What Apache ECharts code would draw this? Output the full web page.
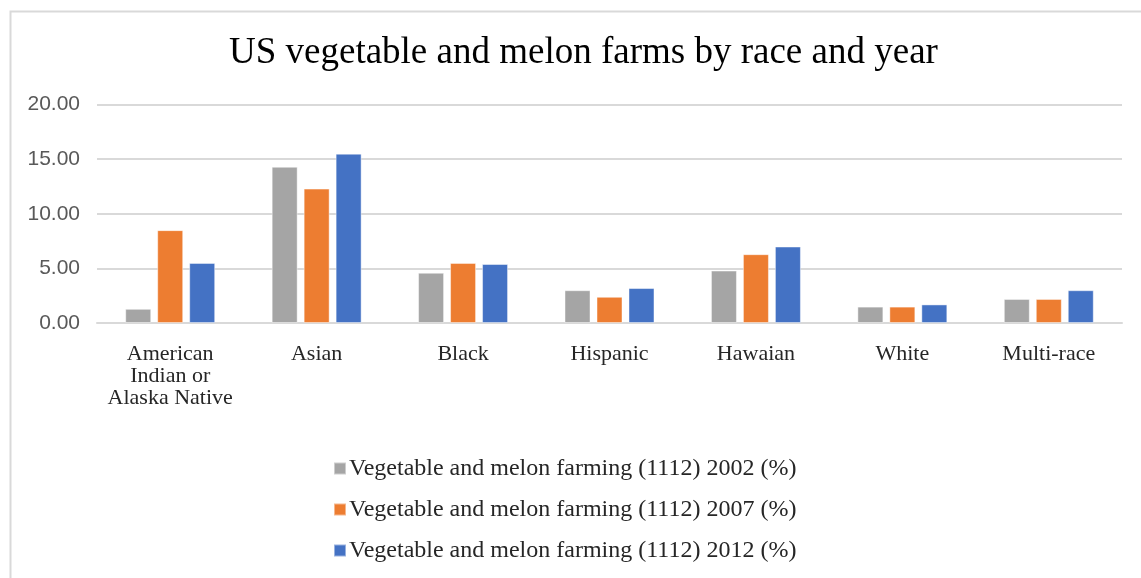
<!DOCTYPE html>
<html>
<head>
<meta charset="utf-8">
<title>US vegetable and melon farms by race and year</title>
<script src="https://cdn.jsdelivr.net/npm/echarts@6/dist/echarts.min.js"></script>
<style>
  html, body { margin: 0; padding: 0; background: #ffffff; }
  #chart { width: 1141px; height: 578px; }
</style>
</head>
<body>
<div id="chart"></div>
<script>
// Race groups on the category axis
const categories = [
  'American\nIndian or\nAlaska Native',
  'Asian',
  'Black',
  'Hispanic',
  'Hawaian',
  'White',
  'Multi-race'
];

// Share of farms in vegetable and melon farming (%), per census year
const series2002 = [1.3, 14.3, 4.6, 3.0, 4.8, 1.5, 2.2];
const series2007 = [8.5, 12.3, 5.5, 2.4, 6.3, 1.5, 2.2];
const series2012 = [5.5, 15.5, 5.4, 3.2, 7.0, 1.7, 3.0];

const seriesNames = [
  'Vegetable and melon farming (1112) 2002 (%)',
  'Vegetable and melon farming (1112) 2007 (%)',
  'Vegetable and melon farming (1112) 2012 (%)'
];

const yTicks = { min: 0, max: 20, interval: 5 };

const colors = ['#A5A5A5', '#ED7D31', '#4472C4'];
const serif = '"Liberation Serif", "Times New Roman", serif';

const chart = echarts.init(document.getElementById('chart'), null, { renderer: 'canvas' });

function barSeries(name, values, color) {
  return {
    name: name,
    type: 'bar',
    data: values,
    barWidth: 26,
    barGap: '23%',
    itemStyle: {
      color: color,
      borderColor: 'rgba(255,255,255,0.45)',
      borderWidth: 1
    }
  };
}

chart.setOption({
  animation: false,
  backgroundColor: '#ffffff',
  color: colors,
  graphic: [{
    type: 'rect',
    left: 8,
    top: 9,
    shape: { width: 1160, height: 600 },
    style: { fill: 'none', stroke: '#d9d9d9', lineWidth: 2 },
    silent: true,
    z: -1
  }],
  title: {
    text: 'US vegetable and melon farms by race and year',
    left: 224,
    top: 30,
    textStyle: {
      fontFamily: serif,
      fontSize: 37,
      fontWeight: 'normal',
      color: '#000000'
    }
  },
  legend: {
    orient: 'vertical',
    left: 328,
    top: 451,
    itemWidth: 12,
    itemHeight: 12,
    itemGap: 16,
    icon: 'rect',
    data: seriesNames,
    textStyle: {
      fontFamily: serif,
      fontSize: 24,
      lineHeight: 25,
      color: '#262626',
      padding: [0, 0, 0, -2]
    }
  },
  grid: {
    left: 97,
    right: 19,
    top: 104.5,
    bottom: 255,
    containLabel: false
  },
  xAxis: {
    type: 'category',
    data: categories,
    axisLine: { show: true, lineStyle: { color: '#d9d9d9', width: 2 } },
    axisTick: { show: false },
    axisLabel: {
      interval: 0,
      margin: 20,
      fontFamily: serif,
      fontSize: 22,
      lineHeight: 22,
      color: '#262626'
    }
  },
  yAxis: {
    type: 'value',
    min: yTicks.min,
    max: yTicks.max,
    interval: yTicks.interval,
    axisLine: { show: false },
    axisTick: { show: false },
    splitLine: { lineStyle: { color: '#d9d9d9', width: 2 } },
    axisLabel: {
      margin: 17,
      fontFamily: '"Liberation Sans", Arial, sans-serif',
      fontSize: 21,
      color: '#595959',
      formatter: function (v) { return v.toFixed(2); }
    }
  },
  series: [
    barSeries(seriesNames[0], series2002, colors[0]),
    barSeries(seriesNames[1], series2007, colors[1]),
    barSeries(seriesNames[2], series2012, colors[2])
  ]
});
</script>
</body>
</html>
